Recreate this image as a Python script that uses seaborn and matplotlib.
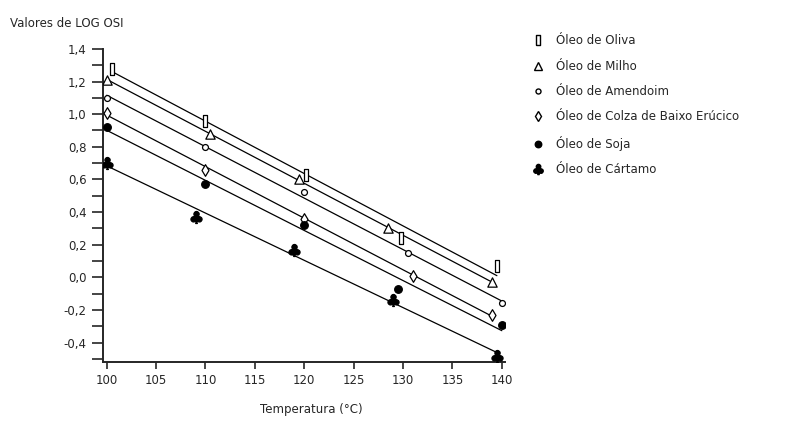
import matplotlib
matplotlib.use("Agg")
import matplotlib.pyplot as plt
from matplotlib.lines import Line2D
from matplotlib.ticker import MultipleLocator
import seaborn as sns
import pandas as pd

# values
oleos = ["Óleo de Oliva", "Óleo de Milho", "Óleo de Amendoim",
         "Óleo de Colza de Baixo Erúcico", "Óleo de Soja", "Óleo de Cártamo"]

temp_oliva = [100.5, 110.0, 120.2, 129.8, 139.5]
osi_oliva = [1.28, 0.96, 0.63, 0.24, 0.07]

temp_milho = [100.0, 110.5, 119.5, 128.5, 139.0]
osi_milho = [1.21, 0.88, 0.60, 0.30, -0.03]

temp_amendoim = [100.0, 110.0, 120.0, 130.5, 140.0]
osi_amendoim = [1.10, 0.80, 0.52, 0.15, -0.16]

temp_colza = [100.0, 110.0, 120.0, 131.0, 139.0]
osi_colza = [1.01, 0.66, 0.36, 0.01, -0.23]

temp_soja = [100.0, 110.0, 120.0, 129.5, 140.0]
osi_soja = [0.92, 0.57, 0.32, -0.07, -0.29]

temp_cartamo = [100.0, 109.0, 119.0, 129.0, 139.5]
osi_cartamo = [0.70, 0.37, 0.17, -0.14, -0.48]

x_ticks = [100, 105, 110, 115, 120, 125, 130, 135, 140]
y_ticks = [1.4, 1.2, 1.0, 0.8, 0.6, 0.4, 0.2, 0.0, -0.2, -0.4]
y_tick_labels = ["1,4", "1,2", "1,0", "0,8", "0,6", "0,4", "0,2", "0,0", "-0,2", "-0,4"]

series = [
    (temp_oliva, osi_oliva),
    (temp_milho, osi_milho),
    (temp_amendoim, osi_amendoim),
    (temp_colza, osi_colza),
    (temp_soja, osi_soja),
    (temp_cartamo, osi_cartamo),
]

rect = [(-0.35, -1), (0.35, -1), (0.35, 1), (-0.35, 1), (-0.35, -1)]
markers = [rect, "^", "o", "d", "o", r"$\clubsuit$"]
sizes = [70, 45, 18, 35, 30, 75]
fills = ["white", "white", "white", "white", "black", "black"]

sns.set_style("ticks")
plt.rcParams["font.family"] = ["DejaVu Sans"]

fig = plt.figure(figsize=(8.09, 4.22), dpi=100)
ax = fig.add_axes([0.127, 0.142, 0.497, 0.742])

for (t, v), mk, sz, fc in zip(series, markers, sizes, fills):
    df = pd.DataFrame({"t": t, "v": v})
    sns.regplot(data=df, x="t", y="v", ax=ax, ci=None, truncate=True, marker=mk,
                scatter_kws=dict(s=sz, facecolors=fc, edgecolors="black",
                                 linewidths=0.9, zorder=3, alpha=1),
                line_kws=dict(color="black", lw=0.9))

ax.set_xlim(99.6, 140.3)
ax.set_ylim(-0.52, 1.4)
ax.set_xticks(x_ticks)
ax.set_xticklabels([str(x) for x in x_ticks], fontsize=8.5)
ax.set_yticks(y_ticks)
ax.set_yticklabels(y_tick_labels, fontsize=8.5)
ax.yaxis.set_minor_locator(MultipleLocator(0.1))
ax.tick_params(axis="y", which="both", length=8, width=1.2, direction="out")
ax.tick_params(axis="x", length=5, width=1.2, direction="out")
ax.set_xlabel("")
ax.set_ylabel("")
sns.despine(ax=ax)
for s in ["left", "bottom"]:
    ax.spines[s].set_linewidth(1.4)

fig.text(0.012, 0.945, "Valores de LOG OSI", fontsize=8.5, ha="left", va="center")
fig.text(0.385, 0.03, "Temperatura (°C)", fontsize=8.5, ha="center", va="center")

handles = []
for mk, sz, fc, nome in zip(markers, sizes, fills, oleos):
    handles.append(Line2D([], [], linestyle="none", marker=mk,
                          markersize=(sz ** 0.5) * 0.85,
                          markerfacecolor=fc, markeredgecolor="black",
                          color="black", label=nome))
fig.legend(handles=handles, loc="upper left", bbox_to_anchor=(0.652, 0.93),
           frameon=False, fontsize=8.5, labelspacing=1.05, handletextpad=1.0,
           handlelength=1.0, borderaxespad=0)

fig.savefig("out.png", dpi=100)
